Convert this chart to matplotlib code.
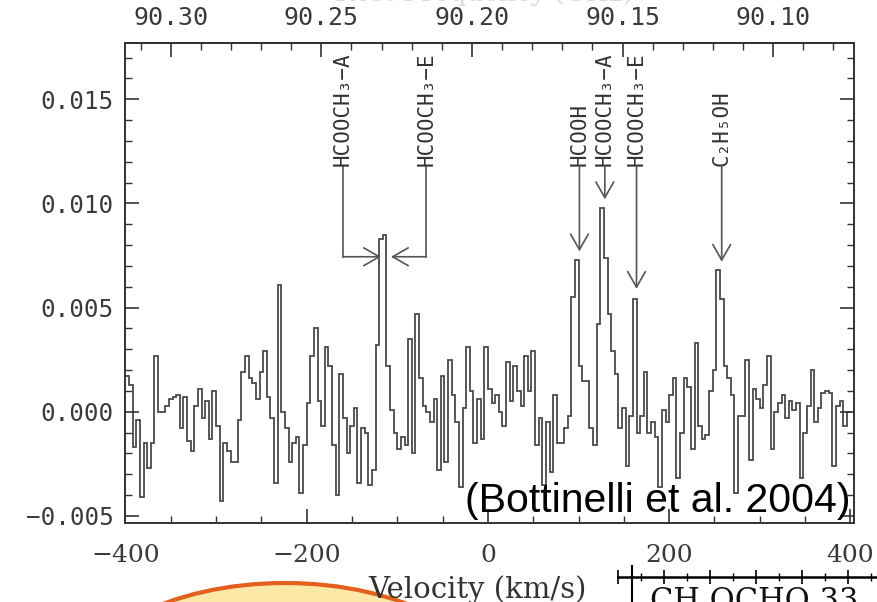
import matplotlib.pyplot as plt
import matplotlib.patches as mpatches
import numpy as np
from matplotlib.ticker import MultipleLocator

plt.rcParams['font.family'] = ['DejaVu Sans Mono', 'DejaVu Sans']

C_KMS = 299792.458
F0_GHZ = 90.1947

# spectrum: 4 km/s channels starting at -400 km/s, flux in units of 1e-3
chan_width = 4.0
v_start = -400.0
flux_e3 = [
    1.7, 1.3, -1.7, -0.4, -4.1, -1.5, -2.7, -1.5, 2.7, 0.0,
    0.0, 0.3, 0.6, 0.7, 0.8, -0.8, 0.7, -1.4, -1.9, 0.3,
    1.1, -0.3, 0.5, -1.3, 1.0, -0.7, -4.3, -1.5, -1.9, -2.4,
    -2.4, -0.4, 1.9, 2.7, 1.6, 1.4, 0.6, 1.9, 2.9, 0.7,
    -0.3, -3.4, 6.1, 0.0, -0.8, -2.4, -1.5, -1.2, -3.9, -1.6,
    0.4, 2.7, 4.0, 0.5, -0.7, 3.1, 2.2, -1.6, -4.0, 1.8,
    -0.3, -2.0, -0.7, 0.2, -3.4, -0.8, -1.0, -3.5, -2.8, 3.2,
    8.3, 8.5, 2.2, 0.1, -1.0, -1.8, -1.2, -1.6, 3.5, -2.0,
    4.7, 1.6, 0.3, 0.0, -0.5, 0.6, -2.8, 1.7, -2.4, 2.5,
    0.8, -0.5, -3.6, 0.2, 3.1, 1.0, -1.5, 0.6, -1.3, 3.1,
    1.1, 0.4, 0.8, 0.0, -0.7, 2.4, 0.5, 2.2, 1.0, 0.3,
    2.7, 1.0, 2.9, -1.6, -0.3, -3.5, -0.5, -2.9, 0.8, -1.5,
    -1.5, -0.8, -0.2, 5.5, 7.3, 2.2, 1.5, 1.5, -0.8, -1.6,
    4.2, 9.8, 7.4, 4.7, 2.9, 1.8, -0.8, 0.2, -2.6, -0.2,
    5.4, -1.0, -0.2, 1.9, -1.0, -0.5, -1.2, -3.6, 0.1, -0.5,
    0.8, 1.6, -3.2, -1.0, 1.6, 1.2, -1.8, 3.3, -0.7, -1.3,
    -1.1, 1.0, 2.0, 6.8, 5.4, 2.2, 1.6, 0.8, -3.9, -0.2,
    -0.2, 2.5, -2.3, 1.1, 0.6, 0.2, 1.3, 2.7, -1.8, 0.0,
    0.4, 0.8, -0.3, 0.5, 0.1, 0.4, -3.2, -1.0, 0.3, 2.0,
    -0.5, 0.2, 0.9, 1.0, 0.9, -2.6, 0.3, 0.5, -0.7, 0.0,
]

# line identifications
species = ['HCOOCH\u2083\u2212A', 'HCOOCH\u2083\u2212E', 'HCOOH',
           'HCOOCH\u2083\u2212A', 'HCOOCH\u2083\u2212E', 'C\u2082H\u2085OH']
label_vel = [-160, -68, 101, 129, 164, 258]
arrow_vel = [-118, -107, 101, 129, 164, 258]
label_base = [0.0118, 0.0118, 0.0118, 0.0118, 0.0118, 0.0118]
arrow_tip = [0.00744, 0.00744, 0.0077, 0.0102, 0.0059, 0.0072]

vel_ticks = [-400, -200, 0, 200, 400]
vel_labels = ['\u2212400', '\u2212200', '0', '200', '400']
flux_ticks = [-0.005, 0.0, 0.005, 0.010, 0.015]
flux_labels = ['\u22120.005', '0.000', '0.005', '0.010', '0.015']
freq_ticks = [90.30, 90.25, 90.20, 90.15, 90.10]
freq_labels = ['90.30', '90.25', '90.20', '90.15', '90.10']

LINE = '#4a4a4a'
TXT = '#3a3a3a'


def v2f(v):
    return F0_GHZ * (1 - np.asarray(v) / C_KMS)


def f2v(f):
    return C_KMS * (1 - np.asarray(f) / F0_GHZ)


fig = plt.figure(figsize=(8.77, 6.02), dpi=100)
ax = fig.add_axes([125 / 877, 79 / 602, 729 / 877, 480 / 602])

flux = np.array(flux_e3) * 1e-3
edges = v_start + chan_width * np.arange(len(flux) + 1)
ax.stairs(flux, edges, baseline=None, color=LINE, lw=1.3)

ax.set_xlim(-400.5, 404)
ax.set_ylim(-0.00534, 0.0177)

for s in ax.spines.values():
    s.set_color('#333333')
    s.set_linewidth(1.4)

ax.set_xticks(vel_ticks)
ax.set_xticklabels(vel_labels, fontfamily='DejaVu Serif', fontsize=18, color=TXT)
ax.set_yticks(flux_ticks)
ax.set_yticklabels(flux_labels, fontsize=17.5, color=TXT)
ax.xaxis.set_minor_locator(MultipleLocator(50))
ax.yaxis.set_minor_locator(MultipleLocator(0.001))
ax.tick_params(which='both', direction='in', top=False, right=True, color='#333333')
ax.tick_params(which='major', length=10, width=1.2)
ax.tick_params(which='minor', length=5, width=1.0)
ax.tick_params(axis='y', pad=8)
ax.tick_params(axis='x', pad=15)

secax = ax.secondary_xaxis('top', functions=(v2f, f2v))
secax.set_xticks(freq_ticks)
secax.set_xticklabels(freq_labels, fontsize=18, color=TXT)
secax.xaxis.set_minor_locator(MultipleLocator(0.01))
secax.tick_params(which='both', direction='in', color='#333333', pad=9)
secax.tick_params(which='major', length=10, width=1.2)
secax.tick_params(which='minor', length=5, width=1.0)
secax.spines['top'].set_color('#333333')
secax.spines['top'].set_linewidth(1.4)

arrow_style = dict(arrowstyle='->,head_length=0.7,head_width=0.4', color='#555555',
                   lw=1.2, shrinkA=0, shrinkB=0, mutation_scale=16)
for name, lv, av, base, tip in zip(species, label_vel, arrow_vel, label_base, arrow_tip):
    ax.text(lv, base, name, rotation=90, ha='center', va='bottom', fontsize=15,
            color='#333333', family=['DejaVu Sans Mono', 'DejaVu Sans'])
    if lv != av:
        ax.plot([lv, lv], [base, tip], color='#555555', lw=1.2)
        ax.annotate('', xy=(av, tip), xytext=(lv, tip), arrowprops=arrow_style)
    else:
        ax.annotate('', xy=(av, tip), xytext=(lv, base), arrowprops=arrow_style)

fig.text(465 / 877, 1 - 512 / 602, '(Bottinelli et al. 2004)', ha='left', va='baseline',
         fontsize=29.5, family='Liberation Sans', color='black')

# axis titles, partly cut off by the slide crop
fig.text(368 / 877, 1 - 598 / 602, 'Velocity (km/s)', ha='left', va='baseline',
         fontsize=21, family='DejaVu Serif', color='#333333')
fig.text(484 / 877, 1 - 1 / 602, 'Rest Frequency (GHz)', ha='center', va='baseline',
         fontsize=19, family='DejaVu Serif', color='#e6d6da')

# slide decorations below the plot
sun = mpatches.Ellipse((285 / 877, -98 / 602), 428 / 877, 234 / 602,
                       transform=fig.transFigure, facecolor='#fce9a8',
                       edgecolor='#e4601c', lw=3, clip_on=False)
fig.add_artist(sun)

ax2 = fig.add_axes([618 / 877, 0, 259 / 877, 36 / 602], zorder=5)
ax2.set_facecolor('white')
ax2.set_xlim(0, 259)
ax2.set_ylim(0, 1)
for side in ['right', 'bottom']:
    ax2.spines[side].set_visible(False)
ax2.spines['top'].set_position(('axes', 0.7))
ax2.spines['left'].set_position(('data', 14))
ax2.spines['top'].set_linewidth(1.8)
ax2.spines['left'].set_linewidth(1.5)
ax2.xaxis.set_ticks_position('top')
ax2.xaxis.set_major_locator(MultipleLocator(46))
ax2.xaxis.set_minor_locator(MultipleLocator(23))
ax2.tick_params(which='both', direction='inout', labeltop=False, labelbottom=False)
ax2.tick_params(which='major', length=10, width=1.2)
ax2.tick_params(which='minor', length=6, width=1.0)
ax2.set_yticks([])
ax2.text(32, 0.0, 'CH OCHO 33', ha='left', va='center', fontsize=22,
         family='DejaVu Serif', color='#111111')

fig.savefig('out.png', dpi=100)
